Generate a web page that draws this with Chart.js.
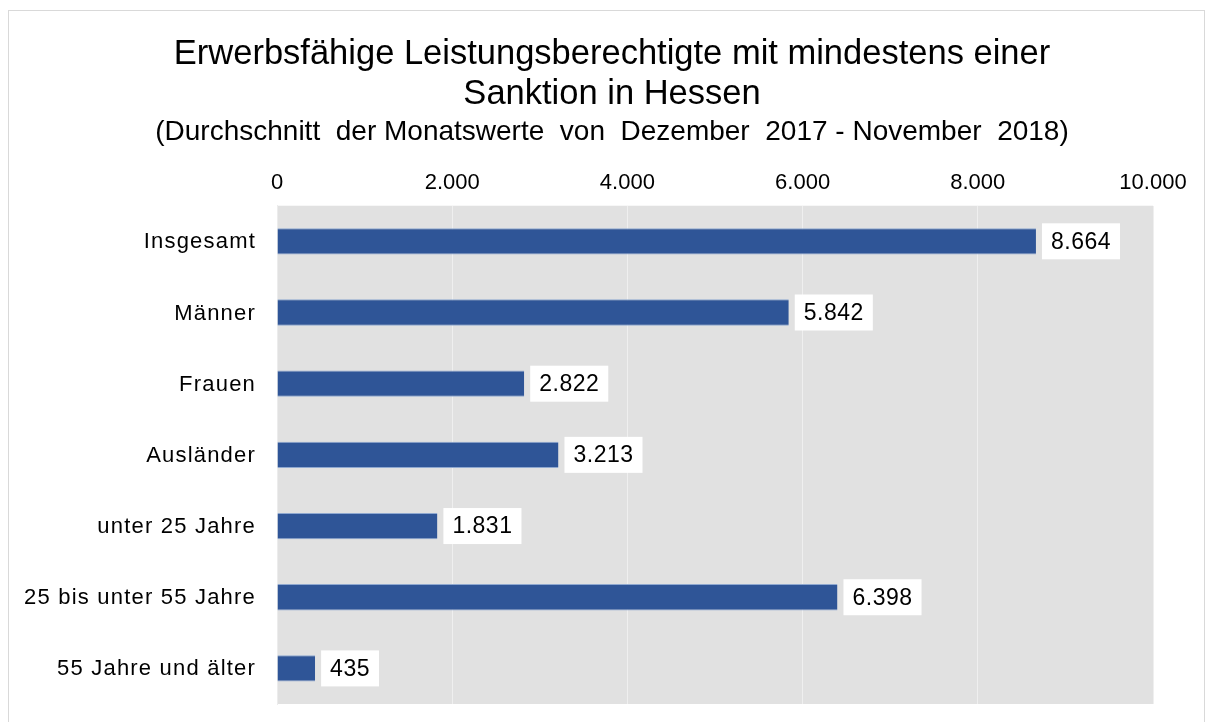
<!DOCTYPE html>
<html>
<head>
<meta charset="utf-8">
<script src="https://cdn.jsdelivr.net/npm/chart.js@4"></script>
<style>
  body { margin: 0; background: #fff; }
  #wrap { position: relative; width: 1212px; height: 722px; }
  #frame { position: absolute; left: 8px; top: 10px; width: 1197px; height: 712px; border: 1px solid #d9d9d9; border-bottom: none; box-sizing: border-box; }
  canvas { position: absolute; left: 0; top: 0; }
</style>
</head>
<body>
<div id="wrap">
  <div id="frame"></div>
  <canvas id="chart" width="1212" height="722"></canvas>
</div>
<script>
// Chart data
const categories = ['Insgesamt', 'Männer', 'Frauen', 'Ausländer', 'unter 25 Jahre', '25 bis unter 55 Jahre', '55 Jahre und älter'];
const values = [8664, 5842, 2822, 3213, 1831, 6398, 435];
const tickValues = [0, 2000, 4000, 6000, 8000, 10000];

const FONT = '"Liberation Sans", Arial, sans-serif';

function formatDe(v) {
    return v.toLocaleString('de-DE');
}

// grey plot background
const plotBackground = {
    id: 'plotBackground',
    beforeDraw(chart) {
        const a = chart.chartArea;
        const ctx = chart.ctx;
        ctx.save();
        ctx.fillStyle = '#e1e1e1';
        ctx.fillRect(a.left, a.top, a.right - a.left, a.bottom - a.top);
        ctx.restore();
    }
};

// category labels (drawn here so they can get the wider letter spacing)
const categoryLabels = {
    id: 'categoryLabels',
    afterDraw(chart) {
        const ctx = chart.ctx;
        const yScale = chart.scales.y;
        ctx.save();
        ctx.letterSpacing = '1.2px';
        ctx.font = '22px ' + FONT;
        ctx.fillStyle = '#000';
        ctx.textAlign = 'right';
        ctx.textBaseline = 'middle';
        categories.forEach(function(c, i) {
            ctx.fillText(c, chart.chartArea.left - 21, yScale.getPixelForValue(i) + 1);
        });
        ctx.restore();
    }
};

// value labels in white boxes
const valueLabels = {
    id: 'valueLabels',
    afterDatasetsDraw(chart) {
        const ctx = chart.ctx;
        const meta = chart.getDatasetMeta(0);
        ctx.save();
        ctx.letterSpacing = '0.5px';
        ctx.font = '23px ' + FONT;
        ctx.textBaseline = 'middle';
        meta.data.forEach(function(bar, i) {
            const text = formatDe(values[i]);
            const w = ctx.measureText(text).width;
            const x = bar.x + 6;
            ctx.fillStyle = '#ffffff';
            ctx.fillRect(x, bar.y - 18, w + 18, 36);
            ctx.fillStyle = '#000000';
            ctx.fillText(text, x + 9, bar.y + 1);
        });
        ctx.restore();
    }
};

new Chart(document.getElementById('chart').getContext('2d'), {
    type: 'bar',
    data: {
        labels: categories,
        datasets: [{
            data: values,
            backgroundColor: '#2f5597',
            borderColor: '#8fa8d0',
            borderWidth: { top: 1, bottom: 1, right: 0, left: 0 },
            borderSkipped: false,
            barPercentage: 0.37,
            categoryPercentage: 1.0
        }]
    },
    options: {
        indexAxis: 'y',
        responsive: false,
        animation: false,
        layout: {
            padding: { left: 71, right: 59, top: 14, bottom: 18 }
        },
        scales: {
            x: {
                position: 'top',
                min: 0,
                max: 10000,
                afterBuildTicks: function(scale) {
                    scale.ticks = tickValues.map(function(v) { return { value: v }; });
                },
                ticks: {
                    color: '#000',
                    padding: 10,
                    font: { family: FONT, size: 22 },
                    callback: function(value) { return formatDe(value); }
                },
                grid: {
                    color: '#efefef',
                    lineWidth: 1,
                    drawTicks: false
                },
                border: { display: false }
            },
            y: {
                afterFit: function(scale) { scale.width = 206; },
                ticks: {
                    callback: function() { return ''; }
                },
                grid: { display: false, drawTicks: false },
                border: { display: true, color: '#ececec' }
            }
        },
        plugins: {
            legend: { display: false },
            tooltip: { enabled: false },
            title: {
                display: true,
                text: ['Erwerbsfähige Leistungsberechtigte mit mindestens einer', 'Sanktion in Hessen'],
                color: '#000',
                font: { family: FONT, size: 34.5, weight: 'normal', lineHeight: 1.17 },
                padding: { top: 20, bottom: 0 }
            },
            subtitle: {
                display: true,
                text: '(Durchschnitt  der Monatswerte  von  Dezember  2017 - November  2018)',
                color: '#000',
                font: { family: FONT, size: 28, lineHeight: 1.2 },
                padding: { top: 1, bottom: 10 }
            }
        }
    },
    plugins: [plotBackground, valueLabels, categoryLabels]
});
</script>
</body>
</html>
